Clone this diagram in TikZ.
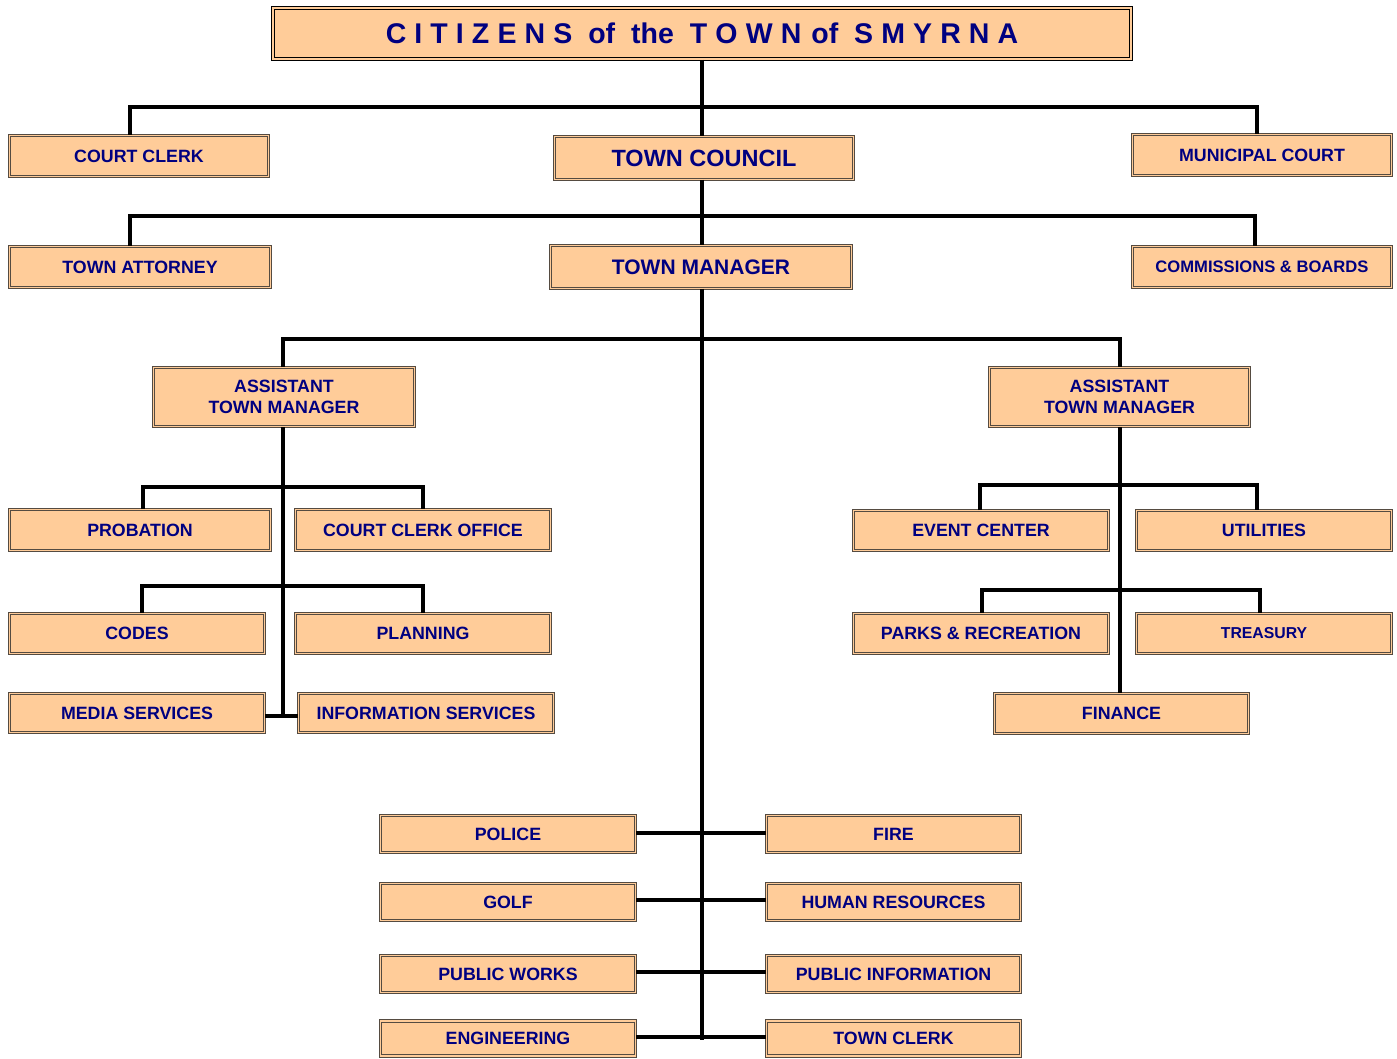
\documentclass[tikz,border=0pt]{standalone}
\usepackage{fontspec}
\setmainfont{Liberation Sans}
\definecolor{peach}{RGB}{255,204,153}
\definecolor{navytxt}{RGB}{0,0,128}
\definecolor{boxedge}{RGB}{85,75,65}
\newcommand\ls{\hspace{8.1pt}}
\tikzset{
  box/.style={draw=boxedge, double=peach, line width=1pt, double distance=1.1pt,
    fill=peach, text=navytxt, font=\bfseries\fontsize{17.8}{21}\selectfont,
    align=center, inner sep=0pt, minimum width=256pt, minimum height=41pt},
  titlebox/.style={draw=black, double=peach, line width=1.8pt, double distance=1.3pt,
    fill=peach, text=navytxt, font=\bfseries\fontsize{28.5}{30}\selectfont,
    inner sep=0pt, minimum width=858pt, minimum height=51pt},
  conn/.style={draw=black, line width=3.6pt}
}
\begin{document}
\begin{tikzpicture}[x=1pt,y=-1pt]
\useasboundingbox (0,0) rectangle (1397,1059);
% bus coordinates
\coordinate (bus1) at (702,107);
\coordinate (bus2) at (702,216);
\coordinate (bus3) at (702,339);
\coordinate (busL1) at (283,487);
\coordinate (busL2) at (283,586);
\coordinate (busR1) at (1120,485);
\coordinate (busR2) at (1120,590);
% nodes
\node[titlebox] (title) at (702,33.5) {C\ls I\ls T\ls I\ls Z\ls E\ls N\ls S\hspace{16pt}of\hspace{16pt}the\hspace{16pt}T\ls O\ls W\ls N\hspace{10pt}of\hspace{16pt}S\ls M\ls Y\ls R\ls N\ls A};
\node[box, minimum width=259pt] (courtclerk) at (139,156) {COURT CLERK};
\node[box, minimum width=299pt, minimum height=43pt, font=\bfseries\fontsize{23.5}{26}\selectfont] (council) at (704,158) {TOWN COUNCIL};
\node[box, minimum width=259pt] (municipal) at (1262,155) {MUNICIPAL COURT};
\node[box, minimum width=261pt] (attorney) at (140,267) {TOWN ATTORNEY};
\node[box, minimum width=301pt, minimum height=43pt, font=\bfseries\fontsize{21}{24}\selectfont] (manager) at (701,267) {TOWN MANAGER};
\node[box, minimum width=259pt, font=\bfseries\fontsize{16.6}{20}\selectfont] (commissions) at (1262,267) {COMMISSIONS \& BOARDS};
\node[box, minimum width=261pt, minimum height=59pt] (atmL) at (284,397) {ASSISTANT\\TOWN MANAGER};
\node[box, minimum width=260pt, minimum height=59pt] (atmR) at (1119.5,397) {ASSISTANT\\TOWN MANAGER};
\node[box, minimum width=261pt] (probation) at (140,530) {PROBATION};
\node[box, minimum width=255pt] (cco) at (423,530) {COURT CLERK OFFICE};
\node[box, minimum width=255pt, minimum height=40pt] (codes) at (137,633.5) {CODES};
\node[box, minimum width=255pt, minimum height=40pt] (planning) at (423,633.5) {PLANNING};
\node[box, minimum width=255pt, minimum height=39pt] (media) at (137,713) {MEDIA SERVICES};
\node[box, minimum width=255pt, minimum height=39pt] (info) at (426,713) {INFORMATION SERVICES};
\node[box, minimum width=255pt, minimum height=40pt] (event) at (981,530.5) {EVENT CENTER};
\node[box, minimum width=255pt, minimum height=40pt] (utilities) at (1264,530.5) {UTILITIES};
\node[box, minimum width=255pt, minimum height=40pt] (parks) at (981,633.5) {PARKS \& RECREATION};
\node[box, minimum width=255pt, minimum height=40pt, font=\bfseries\fontsize{15.8}{19}\selectfont] (treasury) at (1264,633.5) {TREASURY};
\node[box, minimum width=254pt, minimum height=40pt] (finance) at (1121.5,713.5) {FINANCE};
\node[box, minimum width=255pt, minimum height=37pt] (police) at (508,834) {POLICE};
\node[box, minimum width=254pt, minimum height=37pt] (fire) at (893.5,834) {FIRE};
\node[box, minimum width=255pt, minimum height=37pt] (golf) at (508,902) {GOLF};
\node[box, minimum width=254pt, minimum height=37pt] (hr) at (893.5,902) {HUMAN RESOURCES};
\node[box, minimum width=255pt, minimum height=37pt] (pw) at (508,974) {PUBLIC WORKS};
\node[box, minimum width=254pt, minimum height=37pt] (pi) at (893.5,974) {PUBLIC INFORMATION};
\node[box, minimum width=255pt, minimum height=35pt] (eng) at (508,1038.5) {ENGINEERING};
\node[box, minimum width=254pt, minimum height=35pt] (tc) at (893.5,1038.5) {TOWN CLERK};
% top levels
\draw[conn] (title.south) -- (council.north -| title.south);
\draw[conn] ([xshift=-9pt]courtclerk.north) |- (bus1) -| ([xshift=-5pt]municipal.north);
\draw[conn] (council.south -| title.south) -- (manager.north -| title.south);
\draw[conn] ([xshift=-10pt]attorney.north) |- (bus2) -| ([xshift=-7pt]commissions.north);
\draw[conn] (manager.south -| title.south) -- ([yshift=-1.5pt]eng.east -| title.south);
\draw[conn] ([xshift=-1pt]atmL.north) |- (bus3) -| ([xshift=0.5pt]atmR.north);
% left group
\draw[conn] ([xshift=-1pt]atmL.south) -- ([xshift=-1pt,yshift=-3pt]atmL.south |- media.east);
\draw[conn] ([yshift=-3pt]media.east) -- ([yshift=-3pt]info.west);
\draw[conn] ([xshift=3pt]probation.north) |- (busL1) -| (cco.north);
\draw[conn] ([xshift=5pt]codes.north) |- (busL2) -| (planning.north);
% right group
\draw[conn] ([xshift=0.5pt]atmR.south) -- ([xshift=-1.5pt]finance.north);
\draw[conn] ([xshift=-1pt]event.north) |- (busR1) -| ([xshift=-7pt]utilities.north);
\draw[conn] ([xshift=1pt]parks.north) |- (busR2) -| ([xshift=-4pt]treasury.north);
% bottom
\draw[conn] ([yshift=1pt]police.east) -- ([yshift=1pt]fire.west);
\draw[conn] ([yshift=2pt]golf.east) -- ([yshift=2pt]hr.west);
\draw[conn] ([yshift=2pt]pw.east) -- ([yshift=2pt]pi.west);
\draw[conn] ([yshift=1.5pt]eng.east) -- ([yshift=1.5pt]tc.west);
\end{tikzpicture}
\end{document}
